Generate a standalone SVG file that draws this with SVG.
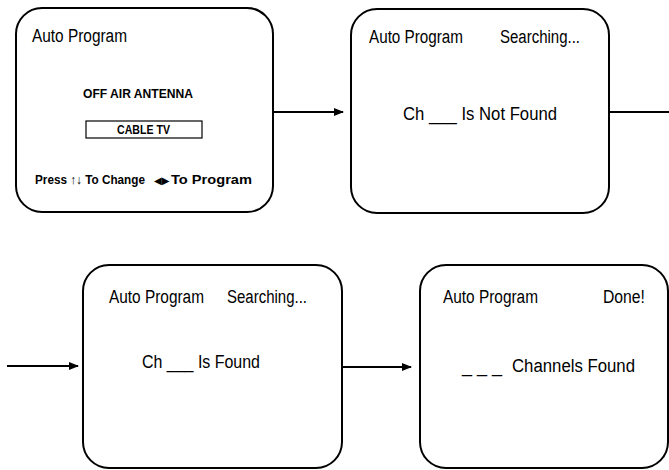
<svg xmlns="http://www.w3.org/2000/svg" width="669" height="470" viewBox="0 0 669 470">
<style>
.box{fill:none;stroke:#000;stroke-width:2}
.t{font-family:"Liberation Sans",Arial,sans-serif;fill:#000}
.lg{font-size:18px}
.sm{font-size:12.5px;font-weight:bold}
.sym{font-family:"DejaVu Sans",sans-serif;font-size:10px;fill:#000}
.conn line{stroke:#000;stroke-width:2}
</style>
<defs>
<marker id="ah" markerWidth="10" markerHeight="8" refX="9" refY="4" orient="auto" markerUnits="userSpaceOnUse">
<path d="M0,0 L10,4 L0,8 Z" fill="#000"/>
</marker>
</defs>
<g id="node1">
<rect class="box" x="16" y="8" width="257" height="204" rx="26" ry="26"/>
<text class="t lg" x="32" y="42" textLength="95" lengthAdjust="spacingAndGlyphs">Auto Program</text>
<text class="t sm" x="83" y="98" textLength="110" lengthAdjust="spacingAndGlyphs">OFF AIR ANTENNA</text>
<rect x="86" y="121" width="116" height="17" fill="none" stroke="#000" stroke-width="1.2"/>
<text class="t sm" x="117" y="134" textLength="53" lengthAdjust="spacingAndGlyphs">CABLE TV</text>
<text class="t sm" x="35" y="184" textLength="110" lengthAdjust="spacingAndGlyphs">Press ↑↓ To Change</text>
<text class="sym" x="154" y="183.5">◀▶</text>
<text class="t sm" x="171" y="184" textLength="81" lengthAdjust="spacingAndGlyphs">To Program</text>
</g>
<g id="node2">
<rect class="box" x="351" y="9" width="258" height="204" rx="26" ry="26"/>
<text class="t lg" x="369" y="43" textLength="94" lengthAdjust="spacingAndGlyphs">Auto Program</text>
<text class="t lg" x="500" y="43" textLength="80" lengthAdjust="spacingAndGlyphs">Searching...</text>
<text class="t lg" x="403" y="120" textLength="154" lengthAdjust="spacingAndGlyphs">Ch ___ Is Not Found</text>
</g>
<g id="node3">
<rect class="box" x="83" y="265" width="259" height="203" rx="26" ry="26"/>
<text class="t lg" x="109" y="303" textLength="95" lengthAdjust="spacingAndGlyphs">Auto Program</text>
<text class="t lg" x="227" y="303" textLength="80" lengthAdjust="spacingAndGlyphs">Searching...</text>
<text class="t lg" x="142" y="368" textLength="118" lengthAdjust="spacingAndGlyphs">Ch ___ Is Found</text>
</g>
<g id="node4">
<rect class="box" x="420" y="265" width="248" height="203" rx="26" ry="26"/>
<text class="t lg" x="443" y="303" textLength="95" lengthAdjust="spacingAndGlyphs">Auto Program</text>
<text class="t lg" x="603" y="303" textLength="42" lengthAdjust="spacingAndGlyphs">Done!</text>
<text class="t lg" x="462" y="372" textLength="40" lengthAdjust="spacingAndGlyphs">_ _ _</text>
<text class="t lg" x="512" y="372" textLength="123" lengthAdjust="spacingAndGlyphs">Channels  Found</text>
</g>
<g id="connectors" class="conn">
<line x1="273" y1="112" x2="343" y2="112" marker-end="url(#ah)"/>
<line x1="609" y1="112" x2="669" y2="112"/>
<line x1="7" y1="366" x2="78" y2="366" marker-end="url(#ah)"/>
<line x1="342" y1="367" x2="411" y2="367" marker-end="url(#ah)"/>
</g>
</svg>
